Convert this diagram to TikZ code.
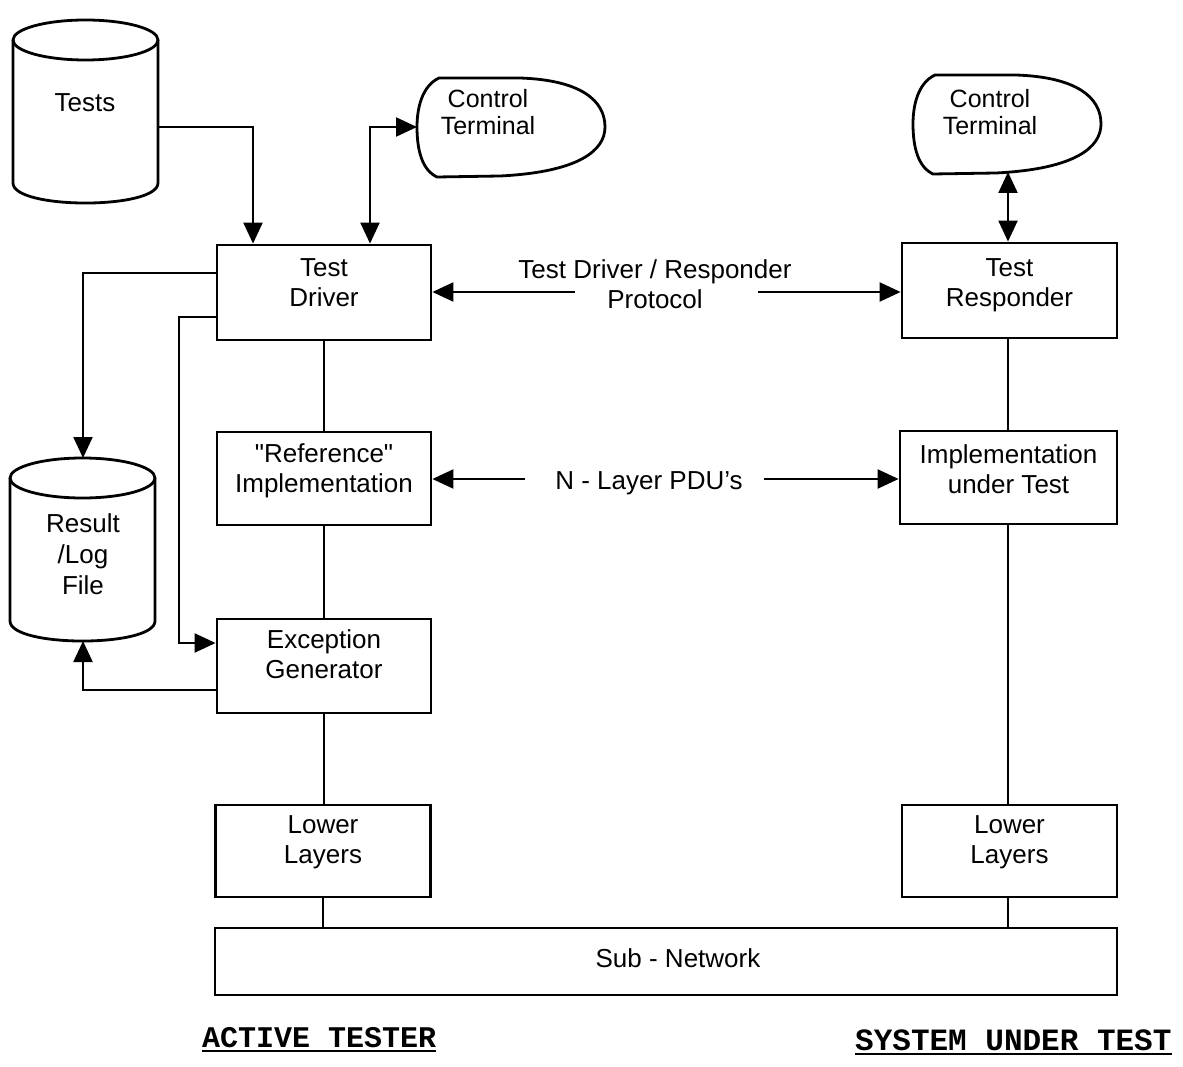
\documentclass[tikz,border=0pt]{standalone}
\usepackage{fontspec}
\setmainfont{Liberation Sans}
\newfontfamily\labfont{Liberation Mono}
\usetikzlibrary{arrows.meta,calc}
\begin{document}
\begin{tikzpicture}[x=1pt,y=-1pt,
  boxst/.style={draw, line width=2.8pt, inner sep=0pt},
  txt/.style={inner sep=0pt, align=center, font=\fontsize{26}{30}\selectfont},
  conn/.style={line width=2.2pt},
  thin/.style={line width=1.7pt},
  arr/.style={conn, -{Triangle[length=21pt,width=19pt]}},
  dbl/.style={conn, {Triangle[length=21pt,width=19pt]}-{Triangle[length=21pt,width=19pt]}},
  outl/.style={line width=2.8pt, line join=round},
  lab/.style={inner sep=0pt, font=\labfont\bfseries\fontsize{30}{30}\selectfont},
  terminal/.pic={
    \draw[outl] (22,0) .. controls (5,8) and (0,30) .. (0,49)
      .. controls (0,72) and (5,92) .. (20,99) -- (83,98)
      .. controls (163,94) and (188,72) .. (188,49)
      .. controls (188,22) and (163,2) .. (103,0) -- cycle;
  },
  cyl/.pic={
    \draw[outl] (0,0) -- (0,143) .. controls (0,169.7) and (145,169.7) .. (145,143) -- (145,0);
    \draw[outl] (72.5,0) ellipse [x radius=72.5pt, y radius=20pt];
  }
]
\useasboundingbox (0,0) rectangle (1183,1067);
\fill[white] (0,0) rectangle (1183,1067);

% cylinders
\pic at (13,40) {cyl};
\node[txt] (tests) at (85,103) {Tests};
\coordinate (testsE) at (158,127);
\pic at (10,478) {cyl};
\node[txt, font=\fontsize{26}{31}\selectfont] (rl) at (83,554) {Result\\/Log\\File};
\coordinate (rlN) at (83,458);
\coordinate (rlS) at (83,641);

% control terminals
\pic at (417,78) {terminal};
\node[txt, font=\fontsize{25}{27}\selectfont] (ctlL) at (488,112) {Control\\Terminal};
\coordinate (ctlW) at (417,127);
\pic at (913,75) {terminal};
\node[txt, font=\fontsize{25}{27}\selectfont] (ctlR) at (990,112) {Control\\Terminal};
\coordinate (ctrS) at (1008,172);

% boxes
\node[boxst, minimum width=214pt, minimum height=95pt] (td) at (324,292.5) {};
\node[txt] (tdt) at (324,283) {Test\\Driver};
\node[boxst, minimum width=214pt, minimum height=93pt] (ri) at (324,478.5) {};
\node[txt] (rit) at (324,470.5) {\textquotedbl Reference\textquotedbl\\Implementation};
\node[boxst, minimum width=214pt, minimum height=94pt] (eg) at (324,666) {};
\node[txt] (egt) at (324,654) {Exception\\Generator};
\node[boxst, minimum width=215pt, minimum height=92pt] (ll) at (323,851) {};
\node[txt] (llt) at (323,842.5) {Lower\\Layers};

\node[boxst, minimum width=215pt, minimum height=95pt] (tr) at (1009.5,290.5) {};
\node[txt] (trt) at (1009.5,285.5) {Test\\Responder};
\node[boxst, minimum width=217pt, minimum height=93pt] (iut) at (1008.5,477.5) {};
\node[txt] (iutt) at (1008.5,469.5) {Implementation\\under Test};
\node[boxst, minimum width=215pt, minimum height=92pt] (lr) at (1009.5,851) {};
\node[txt] (lrt) at (1009.5,842.5) {Lower\\Layers};

\node[boxst, minimum width=902pt, minimum height=67pt] (sn) at (666,961.5) {};
\node[txt] (snt) at (678,958) {Sub - Network};

% middle labels
\node[txt] (proto) at (655,284) {Test Driver / Responder\\Protocol};
\coordinate (pl) at (575,292);
\coordinate (pr) at (758,292);
\node[txt] (pdu) at (649,483.5) {N - Layer PDU's};
\coordinate (ql) at (525,479);
\coordinate (qr) at (764,479);

% connectors
\draw[arr] (testsE) -| ([xshift=-71pt]td.north);
\draw[dbl] (ctlW) -| ([xshift=46pt]td.north);
\draw[dbl] (ctrS) -- (ctrS |- tr.north);
\draw[arr] ([yshift=19.5pt]td.west) -| (rlN);
\draw[arr] ([yshift=-24.5pt]td.west) -- ++(-37,0) |- ([yshift=23pt]eg.west);
\draw[arr] ([yshift=-24pt]eg.west) -| (rlS);
\draw[arr] (pl) -- (pl -| td.east);
\draw[arr] (pr) -- (pr -| tr.west);
\draw[arr] (ql) -- (ql -| ri.east);
\draw[arr] (qr) -- (qr -| iut.west);

\draw[thin] (td.south) -- (ri.north);
\draw[thin] (ri.south) -- (eg.north);
\draw[thin] (eg.south) -- (eg.south |- ll.north);
\draw[thin] (ll.south) -- (ll.south |- sn.north);
\draw[thin] (tr.south -| ctrS) -- (iut.north -| ctrS);
\draw[thin] (iut.south -| ctrS) -- (lr.north -| ctrS);
\draw[thin] (lr.south -| ctrS) -- (sn.north -| ctrS);

% bottom labels
\node[lab, anchor=base west] (act) at (202,1047) {ACTIVE TESTER};
\draw[line width=2.2pt] ([yshift=-4pt]act.base west) -- ([yshift=-4pt]act.base east);
\node[lab, anchor=base west, font=\labfont\bfseries\fontsize{31}{31}\selectfont] (sut) at (855,1050) {SYSTEM UNDER TEST};
\draw[line width=2.2pt] ([yshift=-4pt]sut.base west) -- ([yshift=-4pt]sut.base east);
\end{tikzpicture}
\end{document}
